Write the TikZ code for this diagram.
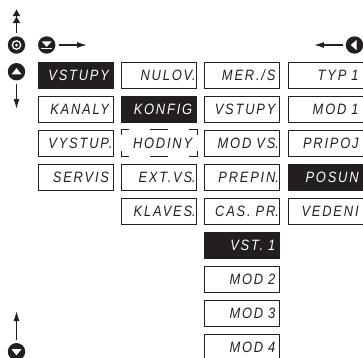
\documentclass[tikz,border=0pt]{standalone}
\usepackage{fontspec}
\newfontfamily\lcdfont[LetterSpace=12,FakeStretch=0.86]{Liberation Sans}
\usetikzlibrary{shapes,arrows.meta}
\definecolor{lcdblack}{HTML}{231F20}
\tikzstyle{block} = [rectangle, draw=lcdblack, line width=.9pt, text=lcdblack,
    minimum width=75pt, minimum height=26pt, text width=66pt, align=right,
    inner sep=0pt, font=\lcdfont\itshape\fontsize{15}{15}\selectfont]
\tikzstyle{blockon} = [block, fill=lcdblack, text=white]
\tikzstyle{blockgap} = [block, draw=none]
\tikzstyle{line} = [draw, line width=.9pt, color=lcdblack]
\tikzstyle{key} = [circle, fill=lcdblack, minimum size=17.4pt, inner sep=0pt]
\tikzstyle{arrowline} = [draw, line width=1.2pt, color=lcdblack, shorten <=3pt, -{Latex[length=10pt,width=6pt]}]
\def\dotc{\rlap{.}}

\begin{document}
\begin{tikzpicture}[x=1pt, y=-1pt, node distance = 34pt]
    \clip (0,0) rectangle (363,357);
    % Place nodes
    \node [blockon] (vstupy) at (76,75) {VSTUPY};
    \node [block, below of=vstupy] (kanaly) {KANALY};
    \node [block, below of=kanaly] (vystup) {VYSTUP\dotc};
    \node [block, below of=vystup] (servis) {SERVIS};

    \node [block, right of=vstupy, node distance=83.2pt] (nulov) {NULOV\dotc};
    \node [blockon, below of=nulov] (konfig) {KONFIG};
    \node [blockgap, below of=konfig] (hodiny) {HODINY};
    \node [block, below of=hodiny] (extvs) {EXT.VS\dotc};
    \node [block, below of=extvs] (klaves) {KLAVES\dotc};

    \node [block, right of=nulov, node distance=83.2pt] (mers) {MER./S};
    \node [block, below of=mers] (vstupyb) {VSTUPY};
    \node [block, below of=vstupyb] (modvs) {MOD VS\dotc};
    \node [block, below of=modvs] (prepin) {PREPIN\dotc};
    \node [block, below of=prepin] (caspr) {CAS. PR\dotc};
    \node [blockon, below of=caspr] (vstjedna) {VST. 1};
    \node [block, below of=vstjedna] (moddva) {MOD 2};
    \node [block, below of=moddva] (modtri) {MOD 3};
    \node [block, below of=modtri] (modctyri) {MOD 4};

    \node [block, right of=mers, node distance=83.2pt] (typ) {TYP 1};
    \node [block, below of=typ] (modjedna) {MOD 1};
    \node [block, below of=modjedna] (pripoj) {PRIPOJ};
    \node [blockon, below of=pripoj] (posun) {POSUN};
    \node [block, below of=posun] (vedeni) {VEDENI};

    % Keys
    \node [key] (keyesc) at (16.5,45) {};
    \node [key] (keyup) at (16.5,71.7) {};
    \node [key] (keyenter) at (46.7,45) {};
    \node [key] (keyleft) at (354.5,45) {};
    \node [key] (keydown) at (16.5,351.7) {};
    \coordinate (escend) at (16.5,9);
    \coordinate (upend) at (16.5,109);
    \coordinate (enterend) at (87,45);
    \coordinate (leftend) at (314,45);
    \coordinate (downend) at (16.5,311);

    % Key symbols
    \draw [white, line width=1.3pt] (keyesc) circle (4.2pt);
    \fill [white] (keyesc) circle (1.5pt);
    \fill [white] (keyup) ++(-5,2.6) -- ++(10,0) -- ++(-5,-6.2) -- cycle;
    \fill [white] (keyenter) ++(-5,-3.6) -- ++(10,0) -- ++(-5,5.4) -- cycle;
    \fill [white] (keyenter) ++(-5.6,3.1) rectangle ++(11.2,1.1);
    \fill [white] (keyleft) ++(2.2,-5.2) -- ++(0,10.4) -- ++(-6,-5.2) -- cycle;
    \fill [white] (keydown) ++(-5,-2.6) -- ++(10,0) -- ++(-5,6.2) -- cycle;

    % Draw edges
    \path [arrowline, -{Latex[length=7pt,width=8pt]Latex[length=7pt,width=8pt]}] (keyesc) -- (escend);
    \path [arrowline] (keyup) -- (upend);
    \path [arrowline] (keyenter) -- (enterend);
    \path [arrowline] (keyleft) -- (leftend);
    \path [arrowline] (keydown) -- (downend);

    % Broken frame
    \path [line] ([yshift=-5pt]hodiny.north west) -- (hodiny.north west) -- ([xshift=8pt]hodiny.north west);
    \path [line] ([yshift=-5pt]hodiny.north east) -- (hodiny.north east) -- ([xshift=-8pt]hodiny.north east);
    \path [line] ([yshift=5pt]hodiny.south west) -- (hodiny.south west) -- ([xshift=8pt]hodiny.south west);
    \path [line] ([yshift=5pt]hodiny.south east) -- (hodiny.south east) -- ([xshift=-8pt]hodiny.south east);
    \path [line] ([xshift=-9pt]hodiny.north) -- ([xshift=9pt]hodiny.north);
    \path [line] ([xshift=-9pt]hodiny.south) -- ([xshift=9pt]hodiny.south);
\end{tikzpicture}
\end{document}
